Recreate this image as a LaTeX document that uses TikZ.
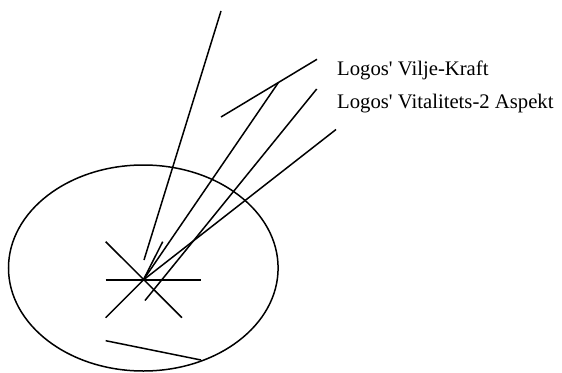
\documentclass[tikz,border=0pt]{standalone}
\usepackage{fontspec}
\setmainfont{Liberation Serif}
\usepackage{tikz}
\usetikzlibrary{positioning}

\begin{document}
\begin{tikzpicture}[x=1pt, y=-1pt,
		stroke/.style={draw=black, line width=1.5pt},
		label/.style={anchor=base west, inner sep=0pt, font=\fontsize{20.7}{24}\selectfont}
	]
	\useasboundingbox (0,0) rectangle (562,372);

	% Ellipse
	\draw[stroke] (143.3,268) ellipse [x radius=134.8, y radius=103];

	% Star in the middle
	\coordinate (centre) at (143.3,280);
	\coordinate (hl) at (105.7,280);
	\coordinate (hr) at (201.3,280);
	\coordinate (dtl) at (105.7,241.7);
	\coordinate (dbr) at (182,317.7);
	\coordinate (dbl) at (105.7,317.7);
	\draw[stroke] (hl) -- (hr);
	\draw[stroke] (dtl) -- (dbr);
	\draw[stroke] (dbl) -- (centre);

	% Rays
	\coordinate (top) at (221,11);
	\coordinate (topend) at (144,260);
	\coordinate (apex) at (278.3,82.7);
	\coordinate (barl) at (221,117);
	\coordinate (barr) at (317,59.3);
	\coordinate (mid) at (316.7,89);
	\coordinate (midend) at (145,300.5);
	\coordinate (low) at (336,129.5);
	\coordinate (short) at (162.7,241.7);
	\draw[stroke] (top) -- (topend);
	\draw[stroke] (barl) -- (barr);
	\draw[stroke] (apex) -- (centre);
	\draw[stroke] (mid) -- (midend);
	\draw[stroke] (low) -- (centre);
	\draw[stroke] (short) -- (centre);

	% Bottom bar
	\coordinate (bl) at (105.7,340.7);
	\coordinate (br) at (201,360);
	\draw[stroke] (bl) -- (br);

	% Labels
	\node[label] (vilje) at (337,75.7) {Logos\textquotesingle{} Vilje-Kraft};
	\node[label] (vital) at (337,108.3) {Logos\textquotesingle{} Vitalitets-2 Aspekt};
\end{tikzpicture}
\end{document}
